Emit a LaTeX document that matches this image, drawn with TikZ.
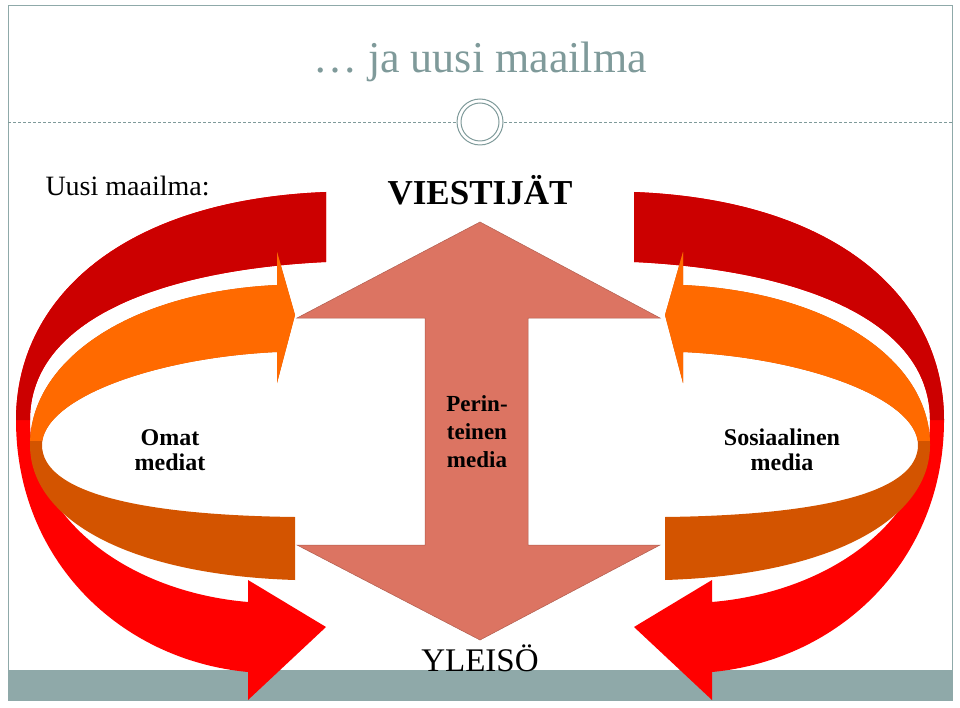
\documentclass[tikz,border=0pt]{standalone}
\usepackage{fontspec}
\setmainfont{Liberation Serif}
\usepackage{xcolor}
\definecolor{framegray}{HTML}{8FA9A9}
\definecolor{titlegray}{HTML}{7F9A9A}
\definecolor{salmon}{HTML}{DC7462}
\definecolor{darkred}{HTML}{CC0000}
\definecolor{brightred}{HTML}{FF0000}
\definecolor{lightorange}{HTML}{FF6A00}
\definecolor{darkorange}{HTML}{D35400}

\begin{document}
\begin{tikzpicture}[x=1pt,y=-1pt]
	 \tikzstyle{label}=[font=\bfseries\fontsize{24}{25}\selectfont,align=center]
	 \tikzstyle{ribbon}=[draw=white,line width=0.4pt]

	 \useasboundingbox (0,0) rectangle (960,708);
	 \draw[framegray] (8,5) rectangle (952,700);
	 \fill[framegray] (8,670) rectangle (952,700);

	 \node[text=titlegray,font=\fontsize{44}{44}\selectfont] (title) at (480,62) {\dots\ ja uusi maailma};
	 \draw[titlegray,densely dashed,line width=0.3pt] (8,122) -- (456,122);
	 \draw[titlegray,densely dashed,line width=0.3pt] (504,122) -- (952,122);
	 \draw[titlegray,line width=1pt] (480,122) circle (23);
	 \draw[titlegray,line width=1pt] (480,122) circle (19);

	 \node[anchor=west,font=\fontsize{28}{28}\selectfont] (uusi) at (42,186) {Uusi maailma:};
	 \node[font=\fontsize{35}{35}\selectfont\bfseries] (viestijat) at (480,190) {VIESTIJÄT};

	 % central double arrow
	 \fill[salmon,draw=salmon!80!black,line width=0.5pt] (480,222) -- (660,318) -- (528,318) -- (528,545) -- (660,545)
	   -- (480,640) -- (297,545) -- (425,545) -- (425,318) -- (297,318) -- cycle;

	 % ribbons, right side is the mirror image
	 \foreach \side in {1,-1} {
	   \begin{scope}[xshift=480pt,xscale=\side,xshift=-480pt]
	     \fill[brightred] (326,192) .. controls (120,200) and (16,300) .. (16,420)
	       .. controls (16,560) and (120,660) .. (248,672) -- (248,700) -- (326,627) -- (248,580) -- (248,602)
	       .. controls (130,592) and (30,520) .. (30,420) .. controls (30,320) and (160,270) .. (326,262) -- cycle;
	     \begin{scope}
	       \clip (0,0) rectangle (480,420);
	       \fill[darkred] (326,192) .. controls (120,200) and (16,300) .. (16,420)
	         -- (30,420) .. controls (30,320) and (160,270) .. (326,262) -- cycle;
	     \end{scope}
	     \fill[darkorange] (295,580) .. controls (130,575) and (30,520) .. (30,445)
	       .. controls (30,360) and (130,292) .. (277,285) -- (277,252) -- (295,315) -- (277,383) -- (277,352)
	       .. controls (150,358) and (42,400) .. (42,445) .. controls (42,490) and (130,515) .. (295,517) -- cycle;
	     \begin{scope}
	       \clip (0,0) rectangle (480,440);
	       \fill[lightorange] (30,445) .. controls (30,360) and (130,292) .. (277,285) -- (277,252) -- (295,315)
	         -- (277,383) -- (277,352) .. controls (150,358) and (42,400) .. (42,445) -- cycle;
	     \end{scope}
	   \end{scope}
	 }

	 \node[label] (omat) at (170,450) {Omat\\mediat};
	 \node[label] (sosiaalinen) at (782,450) {Sosiaalinen\\media};
	 \node[label,font=\bfseries\fontsize{23}{28}\selectfont] (perinteinen) at (477,432) {Perin-\\teinen\\media};
	 \node[font=\fontsize{33}{33}\selectfont] (yleiso) at (480,658) {YLEISÖ};
\end{tikzpicture}
\end{document}
